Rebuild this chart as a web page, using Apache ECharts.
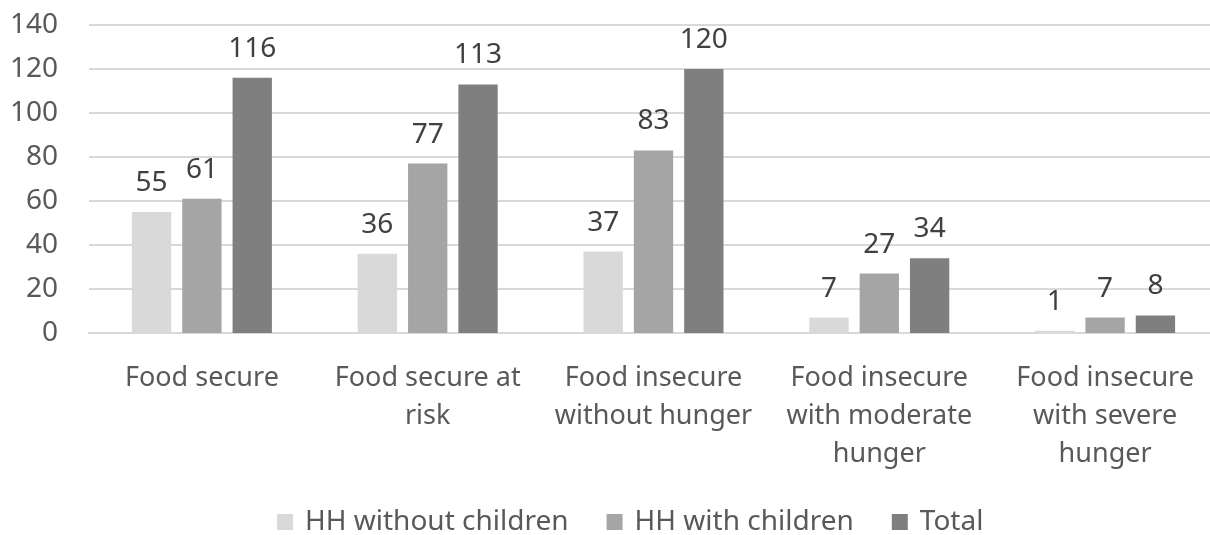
<!DOCTYPE html>
<html>
<head>
<meta charset="utf-8">
<script src="https://cdn.jsdelivr.net/npm/echarts@6/dist/echarts.min.js"></script>
<style>
  html, body { margin: 0; padding: 0; background: #fff; overflow: hidden; }
  /* plot area runs a little past the right edge, as in the source image */
  #chart { width: 1218px; height: 535px; }
</style>
</head>
<body>
<div id="chart"></div>
<script>
var categories = ['Food secure', 'Food secure at\nrisk', 'Food insecure\nwithout hunger',
    'Food insecure\nwith moderate\nhunger', 'Food insecure\nwith severe\nhunger'];
var withoutChildren = [55, 36, 37, 7, 1];
var withChildren = [61, 77, 83, 27, 7];
var total = [116, 113, 120, 34, 8];

var chart = echarts.init(document.getElementById('chart'));
var font = 'Noto Sans';
var txt = '#595959';

function bar(name, data, color) {
    return {
        name: name,
        type: 'bar',
        data: data,
        barGap: '28%',
        barCategoryGap: '38%',
        itemStyle: { color: color },
        label: {
            show: true,
            position: 'top',
            distance: 15,
            color: '#404040',
            fontFamily: font,
            fontSize: 28
        }
    };
}

var option = {
    animation: false,
    textStyle: { fontFamily: font },
    grid: { left: 89, right: 0, top: 25, bottom: 202 },
    legend: {
        bottom: -6,
        left: 272,
        itemWidth: 16,
        itemHeight: 16,
        itemGap: 38,
        icon: 'rect',
        textStyle: { color: txt, fontSize: 28, fontFamily: font, padding: [0, 0, 0, 7] },
        data: ['HH without children', 'HH with children', 'Total']
    },
    xAxis: {
        type: 'category',
        data: categories,
        axisLine: { lineStyle: { color: '#d9d9d9', width: 2 } },
        axisTick: { show: false },
        axisLabel: {
            color: txt,
            fontSize: 27,
            fontFamily: font,
            lineHeight: 38,
            margin: 26,
            interval: 0
        }
    },
    yAxis: {
        type: 'value',
        min: 0,
        max: 140,
        interval: 20,
        axisLine: { show: false },
        axisTick: { show: false },
        axisLabel: { color: txt, fontSize: 28, fontFamily: font, margin: 31 },
        splitLine: { lineStyle: { color: '#d9d9d9', width: 2 } }
    },
    series: [
        bar('HH without children', withoutChildren, '#d9d9d9'),
        bar('HH with children', withChildren, '#a5a5a5'),
        bar('Total', total, '#7f7f7f')
    ]
};
chart.setOption(option);
</script>
</body>
</html>
